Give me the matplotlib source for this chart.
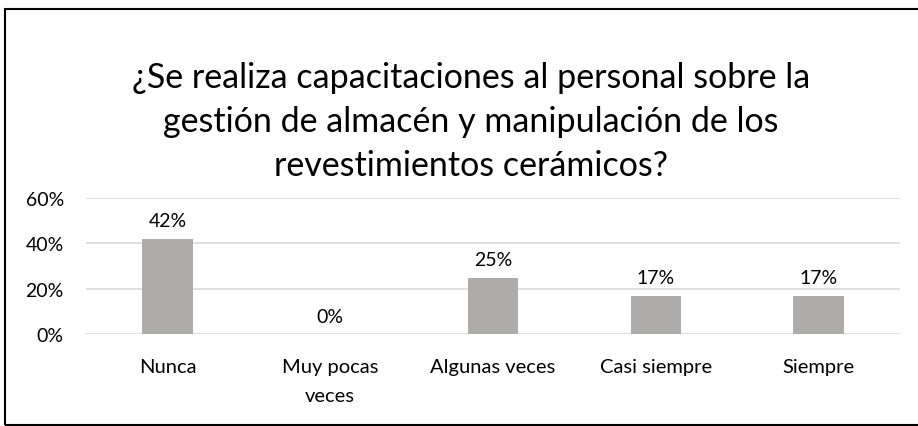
import matplotlib
matplotlib.use("Agg")
import matplotlib.pyplot as plt
from matplotlib.patches import Rectangle

categories = ["Nunca", "Muy pocas\nveces", "Algunas veces", "Casi siempre", "Siempre"]
values = [0.42, 0.00, 0.25, 0.17, 0.17]
labels = ["42%", "0%", "25%", "17%", "17%"]
yticks = [0.0, 0.2, 0.4, 0.6]
ytick_labels = ["0%", "20%", "40%", "60%"]
title = "¿Se realiza capacitaciones al personal sobre la\ngestión de almacén y manipulación de los\nrevestimientos cerámicos?"

plt.rcParams['font.family'] = ['Lato', 'DejaVu Sans']

W, H = 918, 427
fig = plt.figure(figsize=(W / 100, H / 100), dpi=100)

# outer border
fig.patches.append(Rectangle((5 / W, 1 / H), 1.0, (H - 10.5) / H, transform=fig.transFigure,
                             fill=False, edgecolor="black", linewidth=1.5))

ax = fig.add_axes([86 / W, (H - 335.3) / H, (900 - 86) / W, (335.3 - 199) / H])
x = range(len(categories))
ax.bar(x, values, width=0.31, color="#AEABAB", zorder=3)
ax.set_xlim(-0.5, len(categories) - 0.5)
ax.set_ylim(0, 0.6)
ax.set_yticks(yticks)
ax.set_yticklabels(ytick_labels, fontsize=14, color="#000000")
ax.set_xticks(list(x))
ax.set_xticklabels(categories, fontsize=14.5, color="#000000", linespacing=1.85)
ax.tick_params(axis="both", length=0)
ax.tick_params(axis="y", pad=16)
ax.tick_params(axis="x", pad=17)
for s in ax.spines.values():
    s.set_visible(False)
ax.yaxis.grid(True, color="#D9D9D9", linewidth=1.2, zorder=0)
ax.set_axisbelow(True)

for xi, v, lab in zip(x, values, labels):
    ax.annotate(lab, (xi, v), xytext=(0, 7), textcoords="offset points",
                ha="center", va="bottom", fontsize=14, color="#000000")

fig.text(471 / W, (H - 122) / H, title, ha="center", va="center", fontsize=24.5,
         linespacing=1.46, color="#000000")

fig.savefig("out.png", dpi=100)
